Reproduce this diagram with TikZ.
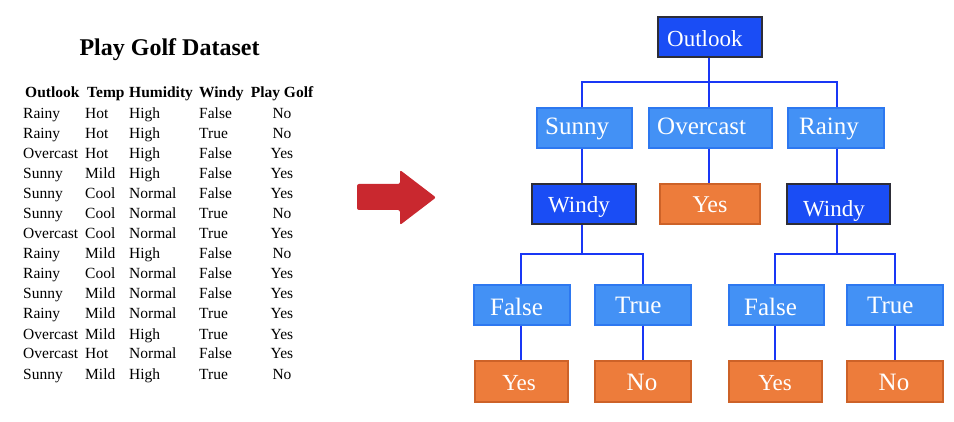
\documentclass[tikz,border=0pt]{standalone}
\usepackage{fontspec}
\setmainfont{Liberation Serif}
\definecolor{darkblue}{RGB}{26,77,245}
\definecolor{darkedge}{RGB}{45,45,55}
\definecolor{lightblue}{RGB}{67,145,245}
\definecolor{lightedge}{RGB}{45,120,240}
\definecolor{orangefill}{RGB}{237,124,59}
\definecolor{orangeedge}{RGB}{205,98,40}
\definecolor{connblue}{RGB}{25,55,245}
\definecolor{arrowred}{RGB}{201,40,47}
\begin{document}
\begin{tikzpicture}[x=1pt,y=-1pt,
  boxbase/.style={inner sep=0pt, line width=1.2pt, minimum height=40pt},
  dbox/.style={boxbase, draw=darkedge, fill=darkblue},
  lbox/.style={boxbase, draw=lightedge, fill=lightblue},
  obox/.style={boxbase, draw=orangeedge, fill=orangefill},
  conn/.style={draw=connblue, line width=2pt},
  lbl/.style={text=white, inner sep=0pt, anchor=base west},
  clbl/.style={text=white, inner sep=0pt, anchor=base},
  fs/.style={font=\fontsize{23}{27}\selectfont},
  fl/.style={font=\fontsize{25}{29}\selectfont},
  fm/.style={font=\fontsize{24}{28}\selectfont},
  cell/.style={inner sep=0pt, anchor=base west, font=\fontsize{15.5}{18}\selectfont},
  ccell/.style={inner sep=0pt, anchor=base, font=\fontsize{15.5}{18}\selectfont},
  hcell/.style={inner sep=0pt, anchor=base west, font=\fontsize{15.5}{18}\selectfont\bfseries},
]
\useasboundingbox (0,0) rectangle (954,422);

% ---------- Title and table ----------
\node[inner sep=0pt, anchor=base, font=\fontsize{24}{28}\selectfont\bfseries] (title) at (169.5,56) {Play Golf Dataset};

\node[hcell] (hOutlook) at (25,98) {Outlook};
\node[hcell] (hTemp) at (87,98) {Temp};
\node[hcell] (hHum) at (129,98) {Humidity};
\node[hcell] (hWindy) at (199,98) {Windy};
\node[inner sep=0pt, anchor=base, font=\fontsize{15.5}{18}\selectfont\bfseries] (hPlay) at (282,98) {Play Golf};

\foreach \o/\t/\h/\w/\p [count=\i] in {
  Rainy/Hot/High/False/No,
  Rainy/Hot/High/True/No,
  Overcast/Hot/High/False/Yes,
  Sunny/Mild/High/False/Yes,
  Sunny/Cool/Normal/False/Yes,
  Sunny/Cool/Normal/True/No,
  Overcast/Cool/Normal/True/Yes,
  Rainy/Mild/High/False/No,
  Rainy/Cool/Normal/False/Yes,
  Sunny/Mild/Normal/False/Yes,
  Rainy/Mild/Normal/True/Yes,
  Overcast/Mild/High/True/Yes,
  Overcast/Hot/Normal/False/Yes,
  Sunny/Mild/High/True/No}{
  \node[cell] (o\i) at (23,{99+20*\i}) {\o};
  \node[cell] (t\i) at (85,{99+20*\i}) {\t};
  \node[cell] (h\i) at (129,{99+20*\i}) {\h};
  \node[cell] (w\i) at (199,{99+20*\i}) {\w};
  \node[ccell] (p\i) at (282,{99+20*\i}) {\p};
}

% ---------- Arrow ----------
\fill[arrowred, rounded corners=2pt] (357,184) -- (400,184) -- (400,170) -- (436,197.5) -- (400,225) -- (400,210) -- (357,210) -- cycle;

% ---------- Tree boxes ----------
\node[dbox, minimum width=104pt] (outlook) at (710,37) {};
\node[lbox, minimum width=95pt] (sunny) at (584.5,128) {};
\node[lbox, minimum width=123pt] (overcast) at (710.5,128) {};
\node[lbox, minimum width=96pt] (rainy) at (836,128) {};
\node[dbox, minimum width=104pt] (windyL) at (584,204) {};
\node[obox, minimum width=100pt] (yesO) at (710,204) {};
\node[dbox, minimum width=103pt] (windyR) at (838.5,204) {};
\node[lbox, minimum width=96pt] (falseL) at (522,305) {};
\node[lbox, minimum width=96pt] (trueL) at (643,305) {};
\node[lbox, minimum width=95pt] (falseR) at (776.5,305) {};
\node[lbox, minimum width=96pt] (trueR) at (895,305) {};
\node[obox, minimum width=93pt, minimum height=41pt] (yesL) at (521.5,381.5) {};
\node[obox, minimum width=96pt, minimum height=41pt] (noL) at (643,381.5) {};
\node[obox, minimum width=93pt, minimum height=41pt] (yesR) at (775.5,381.5) {};
\node[obox, minimum width=96pt, minimum height=41pt] (noR) at (895,381.5) {};

% ---------- Box texts ----------
\node[lbl, fs] (tOutlook) at (667,47) {Outlook};
\node[lbl, fl] (tSunny) at (545,135) {Sunny};
\node[lbl, fl] (tOvercast) at (657,135) {Overcast};
\node[lbl, fl] (tRainy) at (799,135) {Rainy};
\node[lbl, fs] (tWindyL) at (548,213) {Windy};
\node[clbl, fm] (tYesO) at (710,213) {Yes};
\node[lbl, fs] (tWindyR) at (803,217) {Windy};
\node[lbl, fl] (tFalseL) at (490,316) {False};
\node[lbl, fl] (tTrueL) at (615,314) {True};
\node[lbl, fl] (tFalseR) at (744,316) {False};
\node[lbl, fl] (tTrueR) at (867,314) {True};
\node[clbl, fs] (tYesL) at (519,390) {Yes};
\node[clbl, fl] (tNoL) at (642,390) {No};
\node[clbl, fs] (tYesR) at (775,390) {Yes};
\node[clbl, fl] (tNoR) at (894,390) {No};

% ---------- Connector columns ----------
\coordinate (cO) at (709,0);
\coordinate (cS) at (582,0);
\coordinate (cR) at (837,0);
\coordinate (cFL) at (521,0);
\coordinate (cTL) at (643,0);
\coordinate (cFR) at (775,0);
\coordinate (cTR) at (895,0);
\coordinate (j1) at (709,82);
\coordinate (j2) at (582,254);
\coordinate (j3) at (837,254);

% ---------- Connectors ----------
\draw[conn] (outlook.south -| cO) -- (j1);
\draw[conn] (sunny.north -| cS) -- (cS |- j1) -- (cR |- j1) -- (rainy.north -| cR);
\draw[conn] (j1) -- (overcast.north -| cO);
\draw[conn] (sunny.south -| cS) -- (windyL.north -| cS);
\draw[conn] (overcast.south -| cO) -- (yesO.north -| cO);
\draw[conn] (rainy.south -| cR) -- (windyR.north -| cR);
\draw[conn] (windyL.south -| cS) -- (j2);
\draw[conn] (falseL.north -| cFL) -- (cFL |- j2) -- (cTL |- j2) -- (trueL.north -| cTL);
\draw[conn] (windyR.south -| cR) -- (j3);
\draw[conn] (falseR.north -| cFR) -- (cFR |- j3) -- (cTR |- j3) -- (trueR.north -| cTR);
\draw[conn] (falseL.south -| cFL) -- (yesL.north -| cFL);
\draw[conn] (trueL.south -| cTL) -- (noL.north -| cTL);
\draw[conn] (falseR.south -| cFR) -- (yesR.north -| cFR);
\draw[conn] (trueR.south -| cTR) -- (noR.north -| cTR);
\end{tikzpicture}
\end{document}
